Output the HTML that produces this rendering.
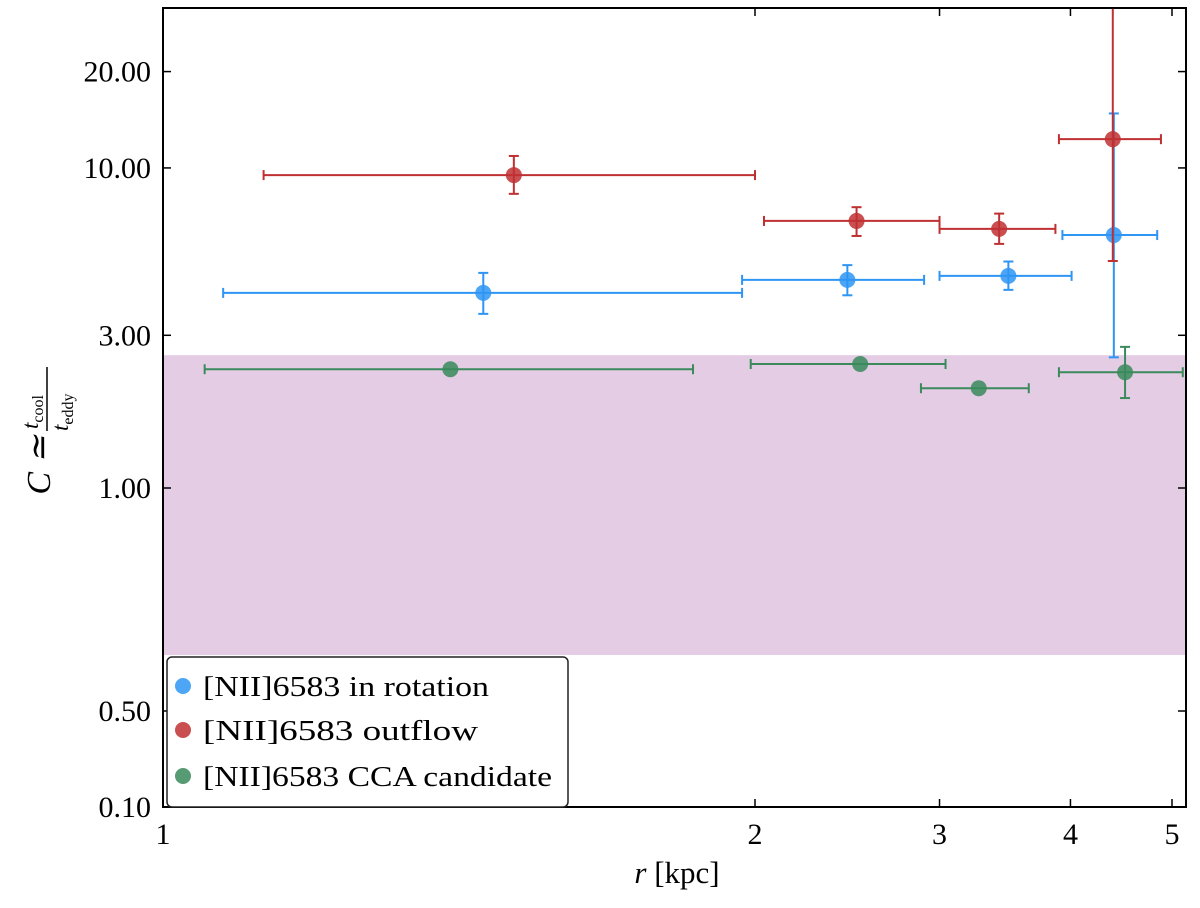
<!DOCTYPE html>
<html><head><meta charset="utf-8"><style>
html,body{margin:0;padding:0;background:#fff;}
svg text{font-family:"Liberation Serif",serif;}
</style></head><body>
<svg id="chart" width="1200" height="903" viewBox="0 0 1200 903" xmlns="http://www.w3.org/2000/svg">
<g id="plot"></g>
</svg>
<script>
const xTickVals=[1,2,3,4,5];
const xTickLabels=["1","2","3","4","5"];
const yTickVals=[0.1,0.5,1,3,10,20];
const yTickLabels=["0.10","0.50","1.00","3.00","10.00","20.00"];
const bandRange=[0.595,2.6];
const blueX=[1.455,2.45,3.49,4.40];
const blueXLo=[1.073,1.97,3.00,3.93];
const blueXHi=[1.97,2.90,4.01,4.84];
const blueY=[4.07,4.47,4.6,6.17];
const blueYLo=[3.5,4.0,4.16,2.56];
const blueYHi=[4.7,4.97,5.1,14.8];
const redX=[1.508,2.50,3.42,4.39];
const redXLo=[1.125,2.04,3.0,3.9];
const redXHi=[2.0,3.0,3.87,4.88];
const redY=[9.5,6.83,6.45,12.3];
const redYLo=[8.3,6.13,5.79,5.12];
const redYHi=[10.9,7.54,7.2,36];
const greenX=[1.40,2.52,3.27,4.51];
const greenXLo=[1.05,1.99,2.88,3.9];
const greenXHi=[1.86,3.04,3.65,5.12];
const greenY=[2.35,2.44,2.05,2.3];
const greenYLo=[2.35,2.44,2.05,1.91];
const greenYHi=[2.35,2.44,2.05,2.76];

const L=163,R=1186,T=8,B=807;
const xAnch=[[1,163],[2,755],[5,1172]];
const yAnch=[[0.1,807],[0.5,711],[1,488],[31.6,8]];
function pw(anch,v){
  const lv=Math.log10(v);
  for(let i=0;i<anch.length-1;i++){
    const a=anch[i],b=anch[i+1];
    if(lv<=Math.log10(b[0])||i==anch.length-2){
      const f=(lv-Math.log10(a[0]))/(Math.log10(b[0])-Math.log10(a[0]));
      return a[1]+f*(b[1]-a[1]);
    }
  }
}
const X=v=>pw(xAnch,v), Y=v=>pw(yAnch,v);
const NS="http://www.w3.org/2000/svg";
const g=document.getElementById('plot');
function mk(tag,attrs,parent){const e=document.createElementNS(NS,tag);for(const k in attrs)e.setAttribute(k,attrs[k]);(parent||g).appendChild(e);return e;}

const defs=mk('defs',{});
const cp=mk('clipPath',{id:'clip'},defs);
mk('rect',{x:L,y:T,width:R-L,height:B-T},cp);

const band=mk('rect',{x:L,y:Y(bandRange[1]),width:R-L,height:Y(bandRange[0])-Y(bandRange[1]),fill:'#e4cce4'});



function series(name,color,xs,xlo,xhi,ys,ylo,yhi){
  const sg=mk('g',{'clip-path':'url(#clip)'});
  
  
  for(let i=0;i<xs.length;i++){
    const cx=X(xs[i]),cy=Y(ys[i]);
    const eb=mk('g',{stroke:color,'stroke-width':2,fill:'none'},sg);
    
    
    mk('line',{x1:X(xlo[i]),x2:X(xhi[i]),y1:cy,y2:cy},eb);
    mk('line',{x1:X(xlo[i]),x2:X(xlo[i]),y1:cy-5,y2:cy+5},eb);
    mk('line',{x1:X(xhi[i]),x2:X(xhi[i]),y1:cy-5,y2:cy+5},eb);
    if(ylo[i]!==yhi[i]){
      mk('line',{x1:cx,x2:cx,y1:Y(ylo[i]),y2:Y(yhi[i])},eb);
      mk('line',{x1:cx-5,x2:cx+5,y1:Y(ylo[i]),y2:Y(ylo[i])},eb);
      mk('line',{x1:cx-5,x2:cx+5,y1:Y(yhi[i]),y2:Y(yhi[i])},eb);
    }
    const c=mk('circle',{cx:cx,cy:cy,r:8,fill:color,'fill-opacity':0.85},sg);
    
    
  }
}
series('blue','#2e95f5',blueX,blueXLo,blueXHi,blueY,blueYLo,blueYHi);
series('red','#bf3033',redX,redXLo,redXHi,redY,redYLo,redYHi);
series('green','#3a8a5c',greenX,greenXLo,greenXHi,greenY,greenYLo,greenYHi);

const fr=mk('rect',{x:L,y:T,width:R-L,height:B-T,fill:'none',stroke:'#000','stroke-width':2});



xTickVals.forEach((v,i)=>{
  const x=X(v);
  mk('line',{x1:x,x2:x,y1:B,y2:B-8,stroke:'#000','stroke-width':1.5});
  mk('line',{x1:x,x2:x,y1:T,y2:T+8,stroke:'#000','stroke-width':1.5});
  const t=mk('text',{x:x,y:B+37,'text-anchor':'middle','font-size':30});
  t.textContent=xTickLabels[i];
  
  
});
yTickVals.forEach((v,i)=>{
  const y=Y(v);
  mk('line',{x1:L,x2:L+8,y1:y,y2:y,stroke:'#000','stroke-width':1.5});
  mk('line',{x1:R,x2:R-8,y1:y,y2:y,stroke:'#000','stroke-width':1.5});
  const t=mk('text',{x:L-12,y:y+10,'text-anchor':'end','font-size':30});
  t.textContent=yTickLabels[i];
  
  
});

const xt=mk('text',{x:677,y:883,'text-anchor':'middle','font-size':31});
xt.innerHTML='<tspan font-style="italic">r</tspan><tspan>  [kpc]</tspan>';
xt.setAttribute('xml:space','preserve');


const yt=mk('g',{transform:'translate(50,415) rotate(-90)'});


const y1=mk('text',{x:-20,y:0,'text-anchor':'end','font-size':34,'font-style':'italic'},yt);y1.textContent='C ≃';
const y2=mk('text',{x:-14,y:-12,'font-size':23},yt);y2.innerHTML='<tspan font-style="italic">t</tspan><tspan font-size="16" dy="5">cool</tspan>';
mk('line',{x1:-16,x2:48,y1:-3,y2:-3,stroke:'#000','stroke-width':1.5},yt);
const y3=mk('text',{x:-16,y:18,'font-size':23},yt);y3.innerHTML='<tspan font-style="italic">t</tspan><tspan font-size="16" dy="5">eddy</tspan>';

const lg=mk('g',{});


mk('rect',{x:167,y:657,width:401,height:150,rx:5,fill:'#fff',stroke:'#222','stroke-width':1.5},lg);
[['#2e95f5','[NII]6583 in rotation',687,286],['#bf3033','[NII]6583 outflow',731,275],['#3a8a5c','[NII]6583 CCA candidate',777,349]].forEach(e=>{
  const eg=mk('g',{},lg);
  
  
  mk('circle',{cx:183,cy:e[2]-1,r:8,fill:e[0],'fill-opacity':0.85},eg);
  const t=mk('text',{x:203,y:e[2]+9,'font-size':29,textLength:e[3],lengthAdjust:'spacingAndGlyphs'},eg);t.textContent=e[1];
});
</script>
</body></html>
